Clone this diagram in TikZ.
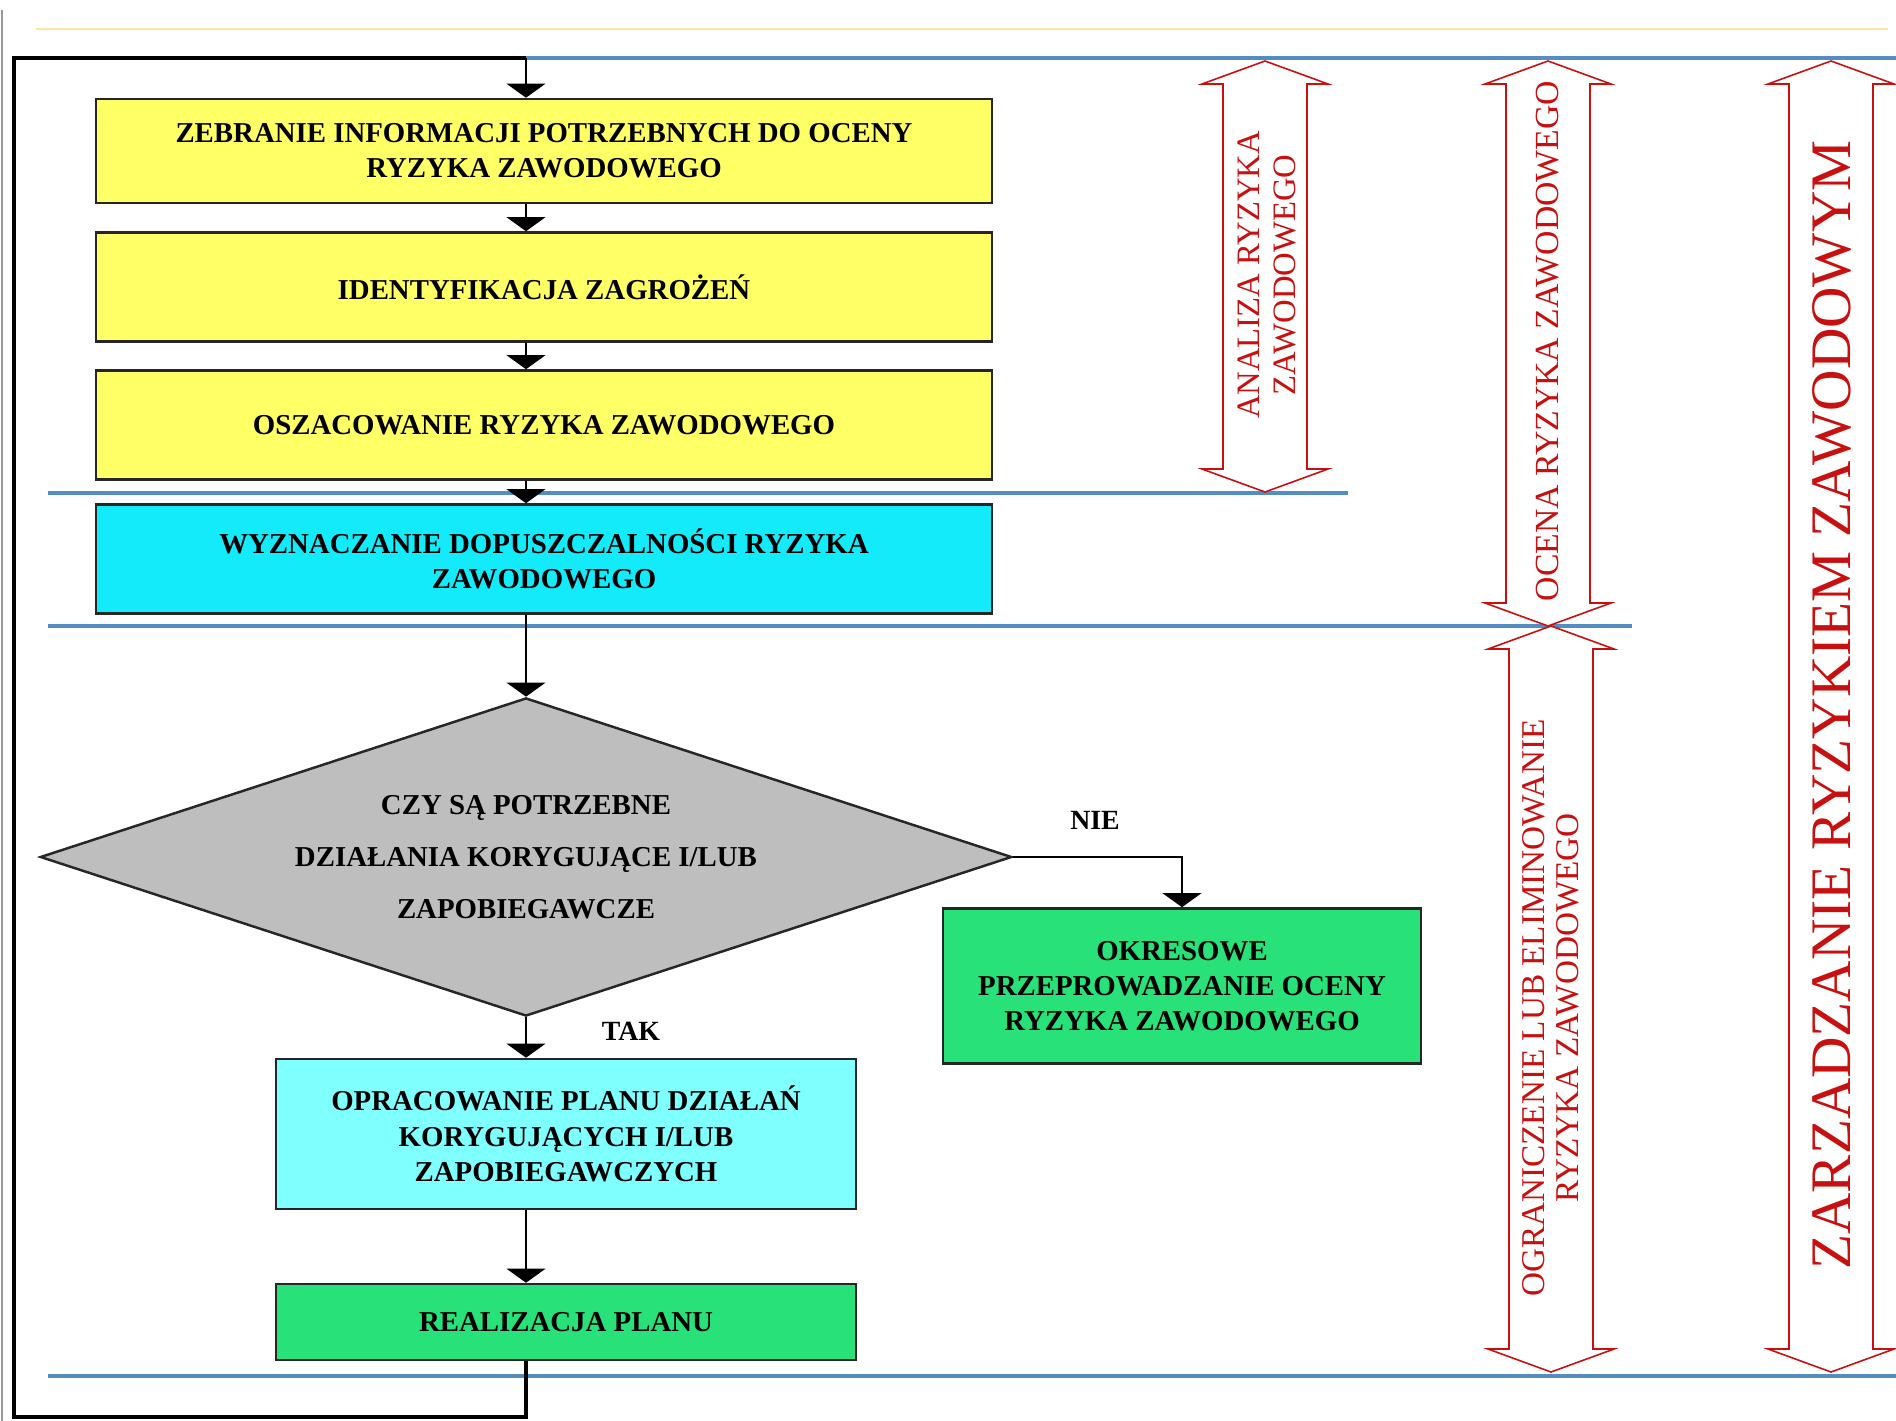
\documentclass[tikz,border=0pt]{standalone}
\usepackage{fontspec}
\setmainfont{Liberation Serif}
\usetikzlibrary{arrows.meta,shapes.geometric}

\definecolor{boxyellow}{RGB}{255,255,102}
\definecolor{boxcyan}{RGB}{20,235,250}
\definecolor{boxlightcyan}{RGB}{128,255,255}
\definecolor{boxgreen}{RGB}{40,225,120}
\definecolor{boxgrey}{RGB}{190,190,190}
\definecolor{sepblue}{RGB}{84,141,196}
\definecolor{riskred}{RGB}{200,16,16}

\tikzset{stepbox/.style={draw=black!85, line width=0.7pt, align=center, inner sep=0pt,
    font=\bfseries\fontsize{8.2pt}{10pt}\selectfont}}
\tikzset{flow/.style={line width=0.6pt, -{Triangle[width=11pt,length=4pt]}}}
\tikzset{sepline/.style={line width=1pt, color=sepblue}}

% red double arrow: centre x, top tip, bottom tip
\newcommand{\riskarrow}[3]{%
  \draw[riskred, line width=0.45pt, fill=white] (#1,#2) -- ++(63,23) -- ++(-21,0)
    -- ++(0,{#3-#2-46}) -- ++(21,0) -- ++(-63,23) -- ++(-63,-23) -- ++(21,0)
    -- ++(0,{-(#3-#2-46)}) -- ++(-21,0) -- cycle;}

\begin{document}
\begin{tikzpicture}[
		x=0.01cm, y=-0.01cm,
		redtext/.style={text=riskred, align=center, rotate=90, inner sep=0pt},
		label/.style={font=\bfseries\fontsize{7.9pt}{9pt}\selectfont, inner sep=0pt}
		]
		\fill[white] (0,0) rectangle (1896,1421);
		\useasboundingbox (0,0) rectangle (1896,1421);

		% slide frame
		\draw[black!40, line width=0.3pt] (2,10) -- (2,1421);
		\draw[yellow!50!orange!35, line width=0.6pt] (36,29) -- (1888,29);

		% phase separators
		\coordinate (loopTR) at (526,58);
		\coordinate (loopBL) at (14,1417);
		\draw[sepline] (loopTR) -- (1896,58);
		\draw[sepline] (48,493) -- (1348,493);
		\draw[sepline] (48,626) -- (1632,626);
		\draw[sepline] (48,1376) -- (1896,1376);

		% steps
		\node[stepbox, fill=boxyellow, minimum width=8.95cm, minimum height=1.04cm] (zebr) at (544,151)
			{ZEBRANIE INFORMACJI POTRZEBNYCH DO OCENY\\RYZYKA ZAWODOWEGO};
		\node[stepbox, fill=boxyellow, minimum width=8.95cm, minimum height=1.09cm] (ident) at (544,287)
			{IDENTYFIKACJA ZAGROŻEŃ};
		\node[stepbox, fill=boxyellow, minimum width=8.95cm, minimum height=1.09cm] (oszac) at (544,425)
			{OSZACOWANIE RYZYKA ZAWODOWEGO};
		\node[stepbox, fill=boxcyan, minimum width=8.95cm, minimum height=1.09cm] (wyzn) at (544,559)
			{WYZNACZANIE DOPUSZCZALNOŚCI RYZYKA\\ZAWODOWEGO};
		\node[stepbox, diamond, fill=boxgrey, aspect=3.05, minimum width=9.71cm, minimum height=3.18cm,
			font=\bfseries\fontsize{8.2pt}{14.8pt}\selectfont] (czy) at (526,857)
			{CZY SĄ POTRZEBNE\\DZIAŁANIA KORYGUJĄCE I/LUB\\ZAPOBIEGAWCZE};
		\node[stepbox, fill=boxgreen, minimum width=4.78cm, minimum height=1.55cm] (okres) at (1182,986)
			{OKRESOWE\\PRZEPROWADZANIE OCENY\\RYZYKA ZAWODOWEGO};
		\node[stepbox, fill=boxlightcyan, minimum width=5.8cm, minimum height=1.5cm] (oprac) at (566,1134)
			{OPRACOWANIE PLANU DZIAŁAŃ\\KORYGUJĄCYCH I/LUB\\ZAPOBIEGAWCZYCH};
		\node[stepbox, fill=boxgreen, minimum width=5.8cm, minimum height=0.76cm] (real) at (566,1322)
			{REALIZACJA PLANU};

		% flow
		\draw[line width=0.9pt] (loopTR |- real.south) |- (loopBL) |- (loopTR);
		\draw[flow] (loopTR) -- (loopTR |- zebr.north);
		\draw[flow] (loopTR |- zebr.south) -- (loopTR |- ident.north);
		\draw[flow] (loopTR |- ident.south) -- (loopTR |- oszac.north);
		\draw[flow] (loopTR |- oszac.south) -- (loopTR |- wyzn.north);
		\draw[flow] (loopTR |- wyzn.south) -- (czy.north);
		\draw[flow] (czy.east) -| (okres.north);
		\draw[flow] (czy.south) -- (loopTR |- oprac.north);
		\draw[flow] (loopTR |- oprac.south) -- (loopTR |- real.north);
		\node[label] (nie) at (1095,820) {NIE};
		\node[label] (tak) at (631,1031) {TAK};

		% phases
		\riskarrow{1265}{61}{492}
		\riskarrow{1548}{61}{626}
		\riskarrow{1551}{626}{1372}
		\riskarrow{1831}{61}{1372}
		\node[redtext, font=\fontsize{9.3pt}{10pt}\selectfont] (analiza) at (1267,275)
			{ANALIZA RYZYKA\\ZAWODOWEGO};
		\node[redtext, font=\fontsize{9.6pt}{10pt}\selectfont] (ocena) at (1548,341)
			{OCENA RYZYKA ZAWODOWEGO};
		\node[redtext, font=\fontsize{9.45pt}{9.6pt}\selectfont] (ogran) at (1551,1008)
			{OGRANICZENIE LUB ELIMINOWANIE\\RYZYKA ZAWODOWEGO};
		\node[redtext, font=\fontsize{16.3pt}{17pt}\selectfont] (zarz) at (1832,705)
			{ZARZADZANIE RYZYKIEM ZAWODOWYM};
	\end{tikzpicture}
\end{document}
